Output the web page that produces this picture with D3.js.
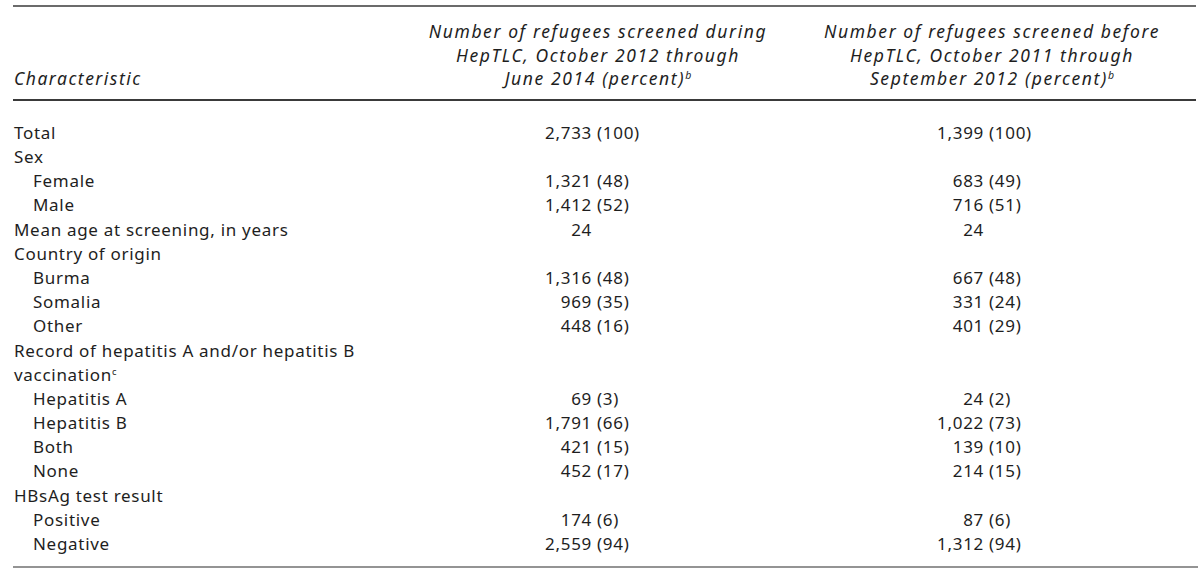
<!DOCTYPE html>
<html>
<head>
<meta charset="utf-8">
<script src="https://cdn.jsdelivr.net/npm/d3@7"></script>
<style>
  html, body { margin: 0; padding: 0; background: #fff; }
  svg { display: block; }
  text { font-family: "Noto Sans", "Open Sans", sans-serif; fill: #1e1e1e; letter-spacing: 0.7px; }
</style>
</head>
<body>
<svg id="chart" width="1200" height="579"></svg>
<script>
// ---- data ----
const rowLabels = [
  "Total", "Sex", "Female", "Male", "Mean age at screening, in years",
  "Country of origin", "Burma", "Somalia", "Other",
  "Record of hepatitis A and/or hepatitis B", "vaccination",
  "Hepatitis A", "Hepatitis B", "Both", "None",
  "HBsAg test result", "Positive", "Negative"
];
const rowIndent = [0,0,1,1,0, 0,1,1,1, 0,0, 1,1,1,1, 0,1,1];
const rowSup = ["","","","","", "","","","", "","c", "","","","", "","",""];
const duringCounts = ["2,733","","1,321","1,412","24","","1,316","969","448","","","69","1,791","421","452","","174","2,559"];
const duringPct    = ["100","","48","52","","","48","35","16","","","3","66","15","17","","6","94"];
const beforeCounts = ["1,399","","683","716","24","","667","331","401","","","24","1,022","139","214","","87","1,312"];
const beforePct    = ["100","","49","51","","","48","24","29","","","2","73","10","15","","6","94"];
const header0 = ["Characteristic"];
const header1 = ["Number of refugees screened during", "HepTLC, October 2012 through", "June 2014 (percent)"];
const header2 = ["Number of refugees screened before", "HepTLC, October 2011 through", "September 2012 (percent)"];
const headerSup = "b";

// ---- layout ----
const svg = d3.select("#chart");
const fs = 17;
const hfs = 17.5;
const y = d3.scaleLinear().domain([0, rowLabels.length - 1]).range([133, 544]);
const col = { label: 14, indent: 33, c1: 594.5, c2: 986.5, h1: 598, h2: 992 };

// rules
svg.append("line").attr("x1", 13).attr("x2", 1196).attr("y1", 6).attr("y2", 6)
  .attr("stroke", "#3a3a3a").attr("stroke-width", 1.5);
svg.append("line").attr("x1", 13).attr("x2", 1196).attr("y1", 100).attr("y2", 100)
  .attr("stroke", "#3a3a3a").attr("stroke-width", 2.2);
svg.append("line").attr("x1", 13).attr("x2", 1198).attr("y1", 567).attr("y2", 567)
  .attr("stroke", "#707070").attr("stroke-width", 1.5);

// header
const hy = d3.scaleLinear().domain([0, 2]).range([32, 79]);
svg.append("text").attr("x", col.label).attr("y", hy(2)).attr("dy", "0.35em")
  .attr("font-style", "italic").attr("font-size", hfs).style("letter-spacing", "1.5px")
  .text(header0[0]);

function headerBlock(lines, cx) {
  lines.forEach((t, i) => {
    const tx = svg.append("text").attr("x", cx).attr("y", hy(i)).attr("dy", "0.35em")
      .attr("text-anchor", "middle").attr("font-style", "italic").attr("font-size", hfs)
      .style("letter-spacing", "1.6px");
    tx.append("tspan").text(t);
    if (i === lines.length - 1) {
      tx.append("tspan").attr("font-size", hfs * 0.6).attr("dy", "-0.55em")
        .style("letter-spacing", "0px").text(headerSup);
    }
  });
}
headerBlock(header1, col.h1);
headerBlock(header2, col.h2);

// body rows
const rows = rowLabels.map((l, i) => ({
  label: l, indent: rowIndent[i], sup: rowSup[i],
  n1: duringCounts[i], p1: duringPct[i], n2: beforeCounts[i], p2: beforePct[i]
}));

const g = svg.selectAll("g.row").data(rows).join("g").attr("class", "row")
  .attr("transform", (d, i) => `translate(0,${y(i)})`);

g.each(function(d) {
  const s = d3.select(this);
  const t = s.append("text").attr("x", d.indent ? col.indent : col.label).attr("dy", "0.35em")
    .attr("font-size", fs);
  t.append("tspan").text(d.label);
  if (d.sup) t.append("tspan").attr("font-size", fs * 0.55).attr("dy", "-0.6em").text(d.sup);

  [[d.n1, d.p1, col.c1], [d.n2, d.p2, col.c2]].forEach(([n, p, cx]) => {
    if (n) s.append("text").attr("x", cx - 2.5).attr("dy", "0.35em").attr("text-anchor", "end")
      .attr("font-size", fs).text(n);
    if (p) s.append("text").attr("x", cx + 2.5).attr("dy", "0.35em").attr("text-anchor", "start")
      .attr("font-size", fs).text(`(${p})`);
  });
});
</script>
</body>
</html>
